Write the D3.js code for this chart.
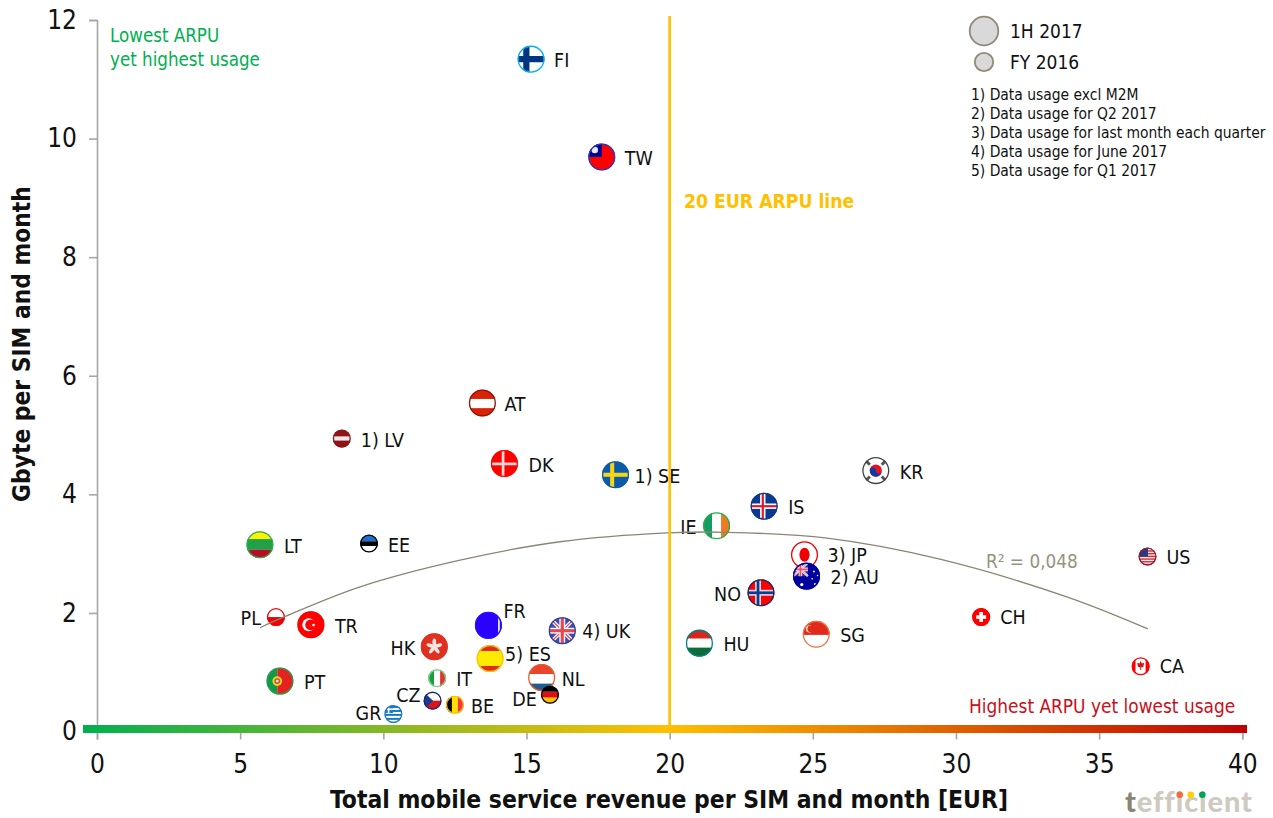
<!DOCTYPE html>
<html><head><meta charset="utf-8">
<script src="https://cdn.jsdelivr.net/npm/d3@7/dist/d3.min.js"></script>
<style>
html,body{margin:0;padding:0;background:#fff}
svg{display:block}
text{font-family:"DejaVu Sans Condensed","DejaVu Sans",sans-serif;font-stretch:condensed;fill:#111}
</style></head><body><svg id="c" width="1273" height="818"></svg>
<script>
// ---- data ----
const countries = ["FI","TW","AT","LV","DK","SE","LT","EE","KR","IS","IE","JP","AU","NO","HU","SG","US","CH","CA","PL","TR","PT","GR","HK","FR","UK","ES","IT","NL","DE","CZ","BE"];
const arpuEur   = [15.16,17.63,13.46,8.55,14.23,18.11,5.69,9.5,27.2,23.3,21.64,24.71,24.78,23.19,21.04,25.12,36.69,30.88,36.45,6.25,7.47,6.39,10.35,11.78,13.67,16.25,13.73,11.88,15.53,15.82,11.72,12.5];
const gbytePerSim = [11.34,9.69,5.54,4.94,4.52,4.33,3.15,3.17,4.40,3.80,3.47,2.98,2.62,2.34,1.49,1.64,2.95,1.93,1.10,1.93,1.80,0.85,0.295,1.43,1.79,1.70,1.23,0.90,0.91,0.62,0.52,0.45];
const periods = ["1H 2017","1H 2017","1H 2017","FY 2016","1H 2017","1H 2017","1H 2017","FY 2016","1H 2017","1H 2017","1H 2017","1H 2017","1H 2017","1H 2017","1H 2017","1H 2017","FY 2016","FY 2016","FY 2016","FY 2016","1H 2017","1H 2017","FY 2016","1H 2017","1H 2017","1H 2017","1H 2017","FY 2016","1H 2017","FY 2016","FY 2016","FY 2016"];
const labelTexts = ["FI","TW","AT","1) LV","DK","1) SE","LT","EE","KR","IS","IE","3) JP","2) AU","NO","HU","SG","US","CH","CA","PL","TR","PT","GR","HK","FR","4) UK","5) ES","IT","NL","DE","CZ","BE"];
const trendX = [5.69,6.57,9.19,12.68,16.17,19.95,22,25.5,29.4,33.87,36.7];
const trendY = [1.75,1.94,2.44,2.89,3.20,3.35,3.36,3.26,2.91,2.27,1.73];
const xTicks = [0,5,10,15,20,25,30,35,40];
const yTicks = [0,2,4,6,8,10,12];
const footnotes = ["1) Data usage excl M2M","2) Data usage for Q2 2017","3) Data usage for last month each quarter","4) Data usage for June 2017","5) Data usage for Q1 2017"];
const legendPeriods = ["1H 2017","FY 2016"];

// ---- layout ----
const x = d3.scaleLinear().domain([0,40]).range([97,1242.3]);
const y = d3.scaleLinear().domain([0,12]).range([731.5,20]);
const radius = d3.scaleOrdinal().domain(legendPeriods).range([13.5,9]);
const FONT_TICK=26, FONT_LBL=19.5;
// label offsets: [dx, dy, anchor]
const labelPos = {FI:[23,1],TW:[23,1],AT:[22,1],LV:[19,1],DK:[24,1],SE:[19,1],LT:[24,1],EE:[19,1],KR:[24,1],IS:[24,1],IE:[-20,1,"end"],JP:[23,0],AU:[24,1],NO:[-20,1,"end"],HU:[24,1],SG:[24,1],US:[19,0],CH:[19,0],CA:[19,0],PL:[-15,1,"end"],TR:[24,1],PT:[24,1],GR:[-12,-1,"end"],HK:[-19,1,"end"],FR:[15,-14],UK:[20,0],ES:[15,-5],IT:[19,1],NL:[20,1],DE:[-13,4,"end"],CZ:[-12,-6,"end"],BE:[16,1]};

const svg = d3.select("#c");
const defs = svg.append("defs");
const grad = defs.append("linearGradient").attr("id","bar");
grad.selectAll("stop").data([[0,"#00B050"],[0.5,"#FFC000"],[1,"#C00000"]]).join("stop")
  .attr("offset",d=>d[0]).attr("stop-color",d=>d[1]);
defs.append("clipPath").attr("id","unit").append("circle").attr("r",1);

// axes
const gy = svg.append("g").attr("transform",`translate(${x(0)},0)`)
  .call(d3.axisLeft(y).tickValues(yTicks).tickSize(8).tickPadding(12).tickFormat(d3.format("d")));
const gx = svg.append("g").attr("transform",`translate(0,${y(0)})`)
  .call(d3.axisBottom(x).tickValues(xTicks).tickSize(8).tickPadding(10).tickFormat(d3.format("d")));
[gy,gx].forEach(g=>{
  g.select(".domain").attr("stroke","#A6A6A6").attr("stroke-width",1.6);
  g.selectAll(".tick line").attr("stroke","#A6A6A6").attr("stroke-width",1.6);
  g.selectAll("text").attr("font-size",FONT_TICK).attr("font-family","'DejaVu Sans Condensed'").attr("fill","#111");
});
gx.selectAll("text").attr("dy","0.9em");

// gradient bar
svg.append("rect").attr("x",83).attr("width",1164).attr("y",725).attr("height",8).attr("fill","url(#bar)");

// flag painting helpers, unit circle coordinates
const R=(g,a,b,w,h,f)=>g.append("rect").attr("x",a).attr("y",b).attr("width",w).attr("height",h).attr("fill",f);
const C=(g,a,b,r,f)=>g.append("circle").attr("cx",a).attr("cy",b).attr("r",r).attr("fill",f);
const H=(g,cols,stops)=>{cols.forEach((c,i)=>R(g,-1,stops[i],2,stops[i+1]-stops[i],c));};
const V=(g,cols,stops)=>{cols.forEach((c,i)=>R(g,stops[i],-1,stops[i+1]-stops[i],2,c));};
const cross=(g,cx,cy,t,f)=>{R(g,cx-t/2,-1,t,2,f);R(g,-1,cy-t/2,2,t,f);};
const L=(g,a,b,c,d,w,f)=>g.append("line").attr("x1",a).attr("y1",b).attr("x2",c).attr("y2",d).attr("stroke",f).attr("stroke-width",w);
const jack=(g,x0,y0,x1,y1,bg,s,red)=>{
  R(g,x0,y0,x1-x0,y1-y0,bg);
  const cx=(x0+x1)/2,cy=(y0+y1)/2;
  L(g,x0,y0,x1,y1,.3*s,"#fff");L(g,x0,y1,x1,y0,.3*s,"#fff");
  L(g,x0,y0,x1,y1,.1*s,red);L(g,x0,y1,x1,y0,.1*s,red);
  R(g,cx-.24*s,y0,.48*s,y1-y0,"#fff");R(g,x0,cy-.24*s,x1-x0,.48*s,"#fff");
  R(g,cx-.13*s,y0,.26*s,y1-y0,red);R(g,x0,cy-.13*s,x1-x0,.26*s,red);
};
const flags = {
 FI:[ "#00B0F0", g=>{R(g,-1,-1,2,2,"#fff");cross(g,-.35,0,.46,"#003580");}],
 TW:[ "#1E3CC8", g=>{R(g,-1,-1,2,2,"#FE0000");R(g,-1,-1,1,1,"#000095");C(g,-.52,-.52,.24,"#e8e8ff");}],
 AT:[ "#8E1408", g=>{H(g,["#DA2208","#fff","#DA2208"],[-1,-.3,.38,1]);}],
 LV:[ "#8E1418", g=>{H(g,["#8E1418","#F0E8E8","#8E1418"],[-1,-.22,.22,1]);}],
 DK:[ "#FF0000", g=>{R(g,-1,-1,2,2,"#FF0000");cross(g,-.1,.03,.2,"#f5dada");}],
 SE:[ "#0A5CA8", g=>{R(g,-1,-1,2,2,"#0A5CA8");cross(g,-.25,0,.3,"#F7D417");}],
 LT:[ "#22B14C", g=>{H(g,["#FFF200","#22A048","#BE0A26"],[-1,-.42,.38,1]);}],
 EE:[ "#000", g=>{H(g,["#1F6FD0","#000","#fff"],[-1,-.25,.28,1]);}],
 KR:[ "#444", g=>{R(g,-1,-1,2,2,"#fff");
      [[-.6,-.6],[.6,-.6],[-.6,.6],[.6,.6]].forEach(p=>L(g,p[0]-.16,p[1]-p[0]*p[1]*.16/.36,p[0]+.16,p[1]+p[0]*p[1]*.16/.36,.22,"#555"));
      C(g,0,0,.45,"#E8111F");g.append("path").attr("d","M-.45,0A.225,.225 0 0 1 0,0A.225,.225 0 0 0 .45,0A.45,.45 0 0 1 -.45,0Z").attr("fill","#0F3BA8");}],
 IS:[ "#0A3A90", g=>{R(g,-1,-1,2,2,"#0A3A90");cross(g,-.1,0,.4,"#fff");cross(g,-.1,0,.16,"#E01828");}],
 IE:[ "#22B14C", g=>{V(g,["#169B62","#fff","#EF7A22"],[-1,-.33,.33,1]);}],
 JP:[ "#F00000", g=>{R(g,-1,-1,2,2,"#fff");g.append("ellipse").attr("rx",.38).attr("ry",.52).attr("fill","#F00000");}],
 AU:[ "#0000A0", g=>{R(g,-1,-1,2,2,"#0000A0");jack(g,-1,-1,.1,0,"#3030A8",.55,"#F05060");
      [[-.35,.62,.12],[.55,-.35,.07],[.82,-.05,.06],[.42,.2,.06],[.62,.58,.07]].forEach(s=>C(g,s[0],s[1],s[2],"#fff"));}],
 NO:[ "#1A2A60", g=>{R(g,-1,-1,2,2,"#FF0000");cross(g,-.22,0,.44,"#D8DCEC");cross(g,-.22,0,.2,"#103A90");}],
 HU:[ "#008080", g=>{H(g,["#D8261C","#fff","#0F6B38"],[-1,-.33,.33,1]);}],
 SG:[ "#F07040", g=>{H(g,["#E02A1C","#fff"],[-1,.05,1]);C(g,-.5,-.4,.27,"#f6d6cc");C(g,-.4,-.4,.25,"#E02A1C");}],
 US:[ "#A01828", g=>{R(g,-1,-1,2,2,"#F4E8E8");d3.range(-1,1,.3).forEach(v=>R(g,-1,v,2,.15,"#C8303C"));R(g,-1,-1,1.05,1,"#2A3A80");}],
 CH:[ "#FF0000", g=>{R(g,-1,-1,2,2,"#FF0000");R(g,-.2,-.55,.4,1.1,"#fff");R(g,-.55,-.2,1.1,.4,"#fff");}],
 CA:[ "#FF0000", g=>{V(g,["#FF0000","#fff","#FF0000"],[-1,-.55,.55,1]);
      g.append("path").attr("d","M0,-.62L.13,-.3L.38,-.38L.3,.08L.05,.12V.42H-.05V.12L-.3,.08L-.38,-.38L-.13,-.3Z").attr("fill","#E01010");}],
 PL:[ "#F00000", g=>{H(g,["#fff","#F00000"],[-1,0,1]);}],
 TR:[ "#FF0000", g=>{R(g,-1,-1,2,2,"#FF0000");C(g,-.16,0,.48,"#fff");C(g,-.02,0,.4,"#FF0000");C(g,.2,.02,.1,"#fff");}],
 PT:[ "#22A050", g=>{V(g,["#129A48","#E42320"],[-1,-.2,1]);C(g,-.2,0,.36,"#E8D820");C(g,-.2,0,.22,"#D05038");C(g,-.2,0,.1,"#f0f0f0");}],
 GR:[ "#1A78C8", g=>{R(g,-1,-1,2,2,"#fff");d3.range(-.89,1,.44).forEach(v=>R(g,-1,v,2,.22,"#1A78C8"));R(g,-1,-1,.95,.9,"#1A78C8");cross2(g);}],
 HK:[ "#E03020", g=>{R(g,-1,-1,2,2,"#E03020");
      d3.range(5).forEach(i=>{const a=i*Math.PI*2/5-Math.PI/2;g.append("ellipse").attr("rx",.14).attr("ry",.3).attr("fill","#f8e4e0")
        .attr("transform",`translate(${.3*Math.cos(a)},${.3*Math.sin(a)}) rotate(${i*72})`);});}],
 FR:[ "#2A10FF", g=>{R(g,-1,-1,2,2,"#2A00FF");R(g,.72,-1,.12,2,"#fff");}],
 UK:[ "#3040A0", g=>{jack(g,-1,-1,1,1,"#3A50B0",.9,"#E84850");}],
 ES:[ "#FFC000", g=>{H(g,["#D8301C","#FFEB00","#D8301C"],[-1,-.55,.55,1]);}],
 IT:[ "#7FD08A", g=>{V(g,["#16A040","#fff","#E83030"],[-1,-.33,.33,1]);}],
 NL:[ "#E85A30", g=>{H(g,["#E8452C","#fff","#1D5C8C"],[-1,-.25,.45,1]);}],
 DE:[ "#000", g=>{H(g,["#000","#E01010","#FFC000"],[-1,-.33,.33,1]);}],
 CZ:[ "#182870", g=>{H(g,["#fff","#D8141C"],[-1,0,1]);g.append("path").attr("d","M-1,-1L.05,0L-1,1Z").attr("fill","#1D3A90");}],
 BE:[ "#FFC000", g=>{V(g,["#000","#FFE000","#EE3A40"],[-1,-.33,.33,1]);}]
};
function cross2(g){R(g,-.62,-1,.18,.9,"#fff");R(g,-1,-.62,.95,.18,"#fff");}

// points, drawn from the arrays
const pts = countries.map((c,i)=>({c,x:arpuEur[i],y:gbytePerSim[i],p:periods[i],t:labelTexts[i]}));
const pg = svg.append("g").selectAll("g").data(pts).join("g")
  .attr("transform",d=>`translate(${x(d.x)},${y(d.y)})`);
pg.each(function(d){
  const r=radius(d.p), g=d3.select(this);
  const inner=g.append("g").attr("transform",`scale(${r})`).append("g").attr("clip-path","url(#unit)");
  flags[d.c][1](inner);
  g.append("circle").attr("r",r-.6).attr("fill","none").attr("stroke",flags[d.c][0]).attr("stroke-width",1.3);
});
// labels
svg.append("g").selectAll("text").data(pts).join("text")
  .attr("x",d=>x(d.x)+labelPos[d.c][0]).attr("y",d=>y(d.y)+labelPos[d.c][1])
  .attr("dy","0.36em").attr("text-anchor",d=>labelPos[d.c][2]||"start")
  .attr("font-size",FONT_LBL).text(d=>d.t);

// trend
svg.append("path").datum(trendX.map((v,i)=>[v,trendY[i]]))
  .attr("d",d3.line().x(d=>x(d[0])).y(d=>y(d[1])).curve(d3.curveCatmullRom))
  .attr("fill","none").attr("stroke","#8C8573").attr("stroke-width",1.3);
svg.append("text").attr("x",986).attr("y",568).attr("font-size",18.8).style("fill","#989280").text("R² = 0,048");

// 20 EUR line
svg.append("line").attr("x1",x(20)).attr("x2",x(20)).attr("y1",16).attr("y2",y(0)+1)
  .attr("stroke","#FFC000").attr("stroke-width",2.6);
svg.append("text").attr("x",684).attr("y",208).attr("font-size",19.2).attr("font-weight","bold").style("fill","#FFC000").text("20 EUR ARPU line");

// axis titles
svg.append("text").attr("x",669).attr("y",808).attr("text-anchor","middle").attr("font-size",24.45).attr("font-weight","bold").text("Total mobile service revenue per SIM and month [EUR]");
svg.append("text").attr("transform","translate(30,344) rotate(-90)").attr("text-anchor","middle").attr("font-size",24.3).attr("font-weight","bold").text("Gbyte per SIM and month");

// annotations
svg.append("text").attr("x",110).attr("y",42).attr("font-size",18.6).style("fill","#00B050").text("Lowest ARPU");
svg.append("text").attr("x",110).attr("y",66).attr("font-size",18.6).style("fill","#00B050").text("yet highest usage");
svg.append("text").attr("x",969).attr("y",713).attr("font-size",18.9).style("fill","#C8101A").text("Highest ARPU yet lowest usage");

// legend
const legendY = d3.scaleOrdinal().domain(legendPeriods).range([31,62]);
const lg = svg.append("g").selectAll("g").data(legendPeriods).join("g").attr("transform",d=>`translate(0,${legendY(d)})`);
lg.append("circle").attr("cx",984).attr("r",d=>radius(d)+(d===legendPeriods[0]?.8:.2)).attr("fill","#D9D9D9").attr("stroke","#918A78").attr("stroke-width",1.8);
lg.append("text").attr("x",1010).attr("dy","0.36em").attr("font-size",19).text(d=>d);
svg.append("g").selectAll("text").data(footnotes).join("text")
  .attr("x",971).attr("y",(d,i)=>94+i*19).attr("dy","0.36em").attr("font-size",15.45).text(d=>d);

// logo
const logo = svg.append("text").attr("x",1125).attr("y",812).attr("font-size",29).attr("font-weight","900").attr("letter-spacing",".9").style("font-family","Lato,'Open Sans'").style("font-stretch","normal");
logo.append("tspan").style("fill","#8C8573").text("t");
logo.append("tspan").style("fill","#CFCAC0").text("efficient");
[[1179.7,"#F26B38"],[1190.7,"#FFD100"],[1202.3,"#00A651"]].forEach(d=>C(svg,d[0],794.7,3.3,d[1]));
</script></body></html>
